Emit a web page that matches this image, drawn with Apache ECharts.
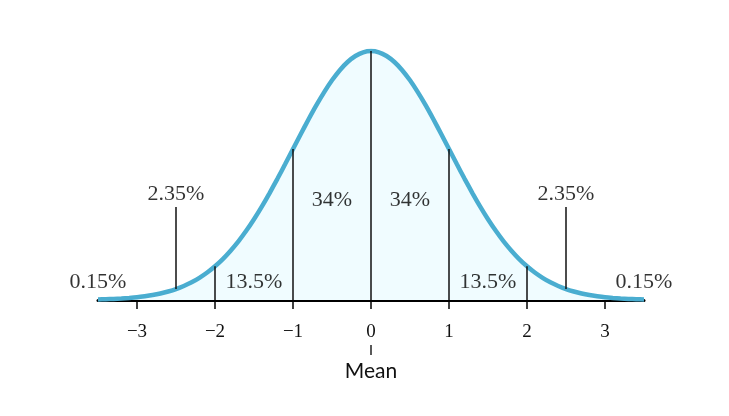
<!DOCTYPE html>
<html><head><meta charset="utf-8">
<script src="https://cdn.jsdelivr.net/npm/echarts@6/dist/echarts.min.js"></script>
<style>html,body{margin:0;padding:0;background:#fff}#c{width:729px;height:416px}</style>
</head><body><div id="c"></div>
<script>
// Curve (x in standard deviations, density)
var curveX = [-3.5,-3.4,-3.3,-3.2,-3.1,-3.0,-2.9,-2.8,-2.7,-2.6,-2.5,-2.4,-2.3,-2.2,-2.1,-2.0,-1.9,-1.8,-1.7,-1.6,-1.5,-1.4,-1.3,-1.2,-1.1,-1.0,-0.9,-0.8,-0.7,-0.6,-0.5,-0.4,-0.3,-0.2,-0.1,0,0.1,0.2,0.3,0.4,0.5,0.6,0.7,0.8,0.9,1.0,1.1,1.2,1.3,1.4,1.5,1.6,1.7,1.8,1.9,2.0,2.1,2.2,2.3,2.4,2.5,2.6,2.7,2.8,2.9,3.0,3.1,3.2,3.3,3.4,3.5];
var curveY = [0.0009,0.0012,0.0017,0.0024,0.0033,0.0044,0.0060,0.0079,0.0104,0.0136,0.0175,0.0224,0.0283,0.0355,0.0440,0.0540,0.0656,0.0790,0.0940,0.1109,0.1295,0.1497,0.1714,0.1942,0.2179,0.2420,0.2661,0.2897,0.3123,0.3332,0.3521,0.3683,0.3814,0.3910,0.3970,0.3989,0.3970,0.3910,0.3814,0.3683,0.3521,0.3332,0.3123,0.2897,0.2661,0.2420,0.2179,0.1942,0.1714,0.1497,0.1295,0.1109,0.0940,0.0790,0.0656,0.0540,0.0440,0.0355,0.0283,0.0224,0.0175,0.0136,0.0104,0.0079,0.0060,0.0044,0.0033,0.0024,0.0017,0.0012,0.0009];
var dividerX = [-2,-1,0,1,2];
var dividerTop = [0.054,0.242,0.3989,0.242,0.054];
var calloutX = [-2.5,2.5];
var calloutBottom = [0.0175,0.0175];
var calloutTop = [0.149,0.149];
var pctText = ['0.15%','2.35%','13.5%','34%','34%','13.5%','2.35%','0.15%'];
var pctX = [-3.5,-2.5,-1.5,-0.5,0.5,1.5,2.5,3.5];
var pctY = [0.029,0.170,0.029,0.160,0.160,0.029,0.170,0.029];
var tickValues = [-3,-2,-1,0,1,2,3];

var chart = echarts.init(document.getElementById('c'));
var series = [];
series.push({type:'line', data: curveX.map(function(x,i){return [x,curveY[i]];}), smooth:0.2, symbol:'none',
  lineStyle:{color:'#4aadd0', width:4.5}, areaStyle:{color:'#f0fcff', opacity:1}, z:3});
dividerX.forEach(function(x,i){
  series.push({type:'line', data:[[x,0],[x,dividerTop[i]]], symbol:'none', lineStyle:{color:'#111', width:1.5}, z:4, silent:true});
});
calloutX.forEach(function(x,i){
  series.push({type:'line', data:[[x,calloutBottom[i]],[x,calloutTop[i]]], symbol:'none', lineStyle:{color:'#111', width:1.5}, z:4, silent:true});
});
series.push({type:'scatter', symbolSize:0, z:5, silent:true,
  data: pctX.map(function(x,i){return {value:[x,pctY[i]], name:pctText[i]};}),
  label:{show:true, position:'inside', formatter:function(p){return p.name;}, color:'#000',
    textBorderWidth:0, textBorderColor:'transparent',
    fontFamily:'"Liberation Serif", "DejaVu Serif", serif', fontSize:22}});

chart.setOption({
  animation:false,
  grid:{left:98, right:85, top:50.4, bottom:116},
  xAxis:{type:'value', min:-3.5, max:3.5,
    axisLine:{show:true, onZero:false, lineStyle:{color:'#000', width:3}},
    axisTick:{show:true, customValues:tickValues, length:9, lineStyle:{color:'#000', width:1.5}},
    axisLabel:{show:true, customValues:tickValues, margin:23, color:'#111', fontSize:19,
      fontFamily:'"Liberation Serif", "DejaVu Serif", serif',
      formatter:function(v){return v<0 ? '\u2212'+Math.abs(v) : String(v);}},
    splitLine:{show:false},
    name:'Mean', nameLocation:'middle', nameGap:61,
    nameTextStyle:{fontFamily:'Lato, sans-serif', fontSize:21, color:'#111'}
  },
  yAxis:{type:'value', min:0, max:0.4, show:false},
  series:series
});
var p0 = chart.convertToPixel({xAxisIndex:0, yAxisIndex:0},[0,0]);
chart.setOption({graphic:[{type:'line', shape:{x1:p0[0], y1:p0[1]+45, x2:p0[0], y2:p0[1]+55}, style:{stroke:'#222', lineWidth:1.5}}]});
</script></body></html>
